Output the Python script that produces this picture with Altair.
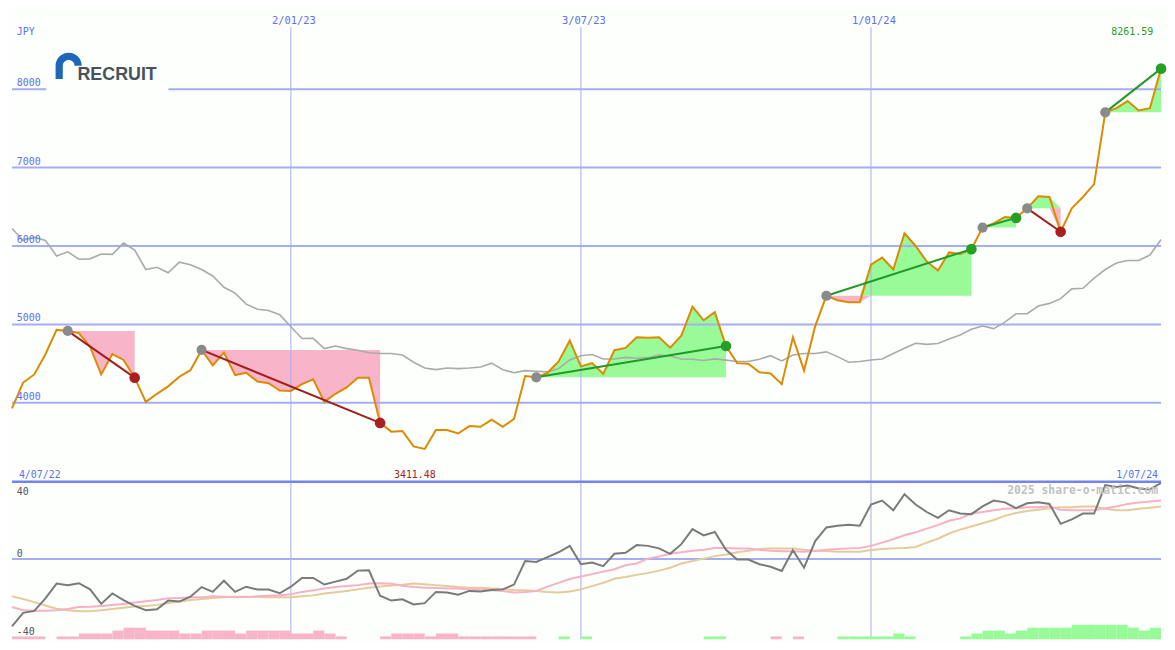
import altair as alt
import pandas as pd

# ---------------- data (weekly, 11/07/22 .. 1/07/24) ----------------
weeks = list(range(104))

price = [3930, 4259, 4362, 4620, 4930, 4917, 4889, 4716, 4362, 4621,
         4547, 4321, 4012, 4115, 4210, 4333, 4416, 4675, 4477, 4642,
         4354, 4383, 4272, 4251, 4156, 4152, 4238, 4300, 4012, 4115,
         4197, 4321, 4321, 3744, 3633, 3642, 3444, 3411.48, 3654, 3654,
         3609, 3703, 3695, 3785, 3695, 3794, 4342, 4325, 4383, 4527,
         4794, 4465, 4506, 4370, 4671, 4700, 4836, 4831, 4836, 4704,
         4856, 5226, 5053, 5156, 4725, 4506, 4498, 4391, 4374, 4238,
         4836, 4411, 4979, 5365, 5309, 5284, 5284, 5762, 5852, 5700,
         6162, 6000, 5802, 5688, 5918, 5897, 5960, 6235, 6288, 6370,
         6358, 6480, 6633, 6625, 6181, 6481, 6625, 6790, 7704, 7757,
         7848, 7728, 7757, 8261.59]

index_line = [6222, 6071, 6111, 6071, 5873, 5926, 5831, 5836, 5898, 5893,
              6037, 5947, 5700, 5729, 5659, 5794, 5762, 5700, 5618, 5473,
              5399, 5259, 5193, 5177, 5123, 4971, 4820, 4823, 4691, 4724,
              4691, 4671, 4638, 4630, 4630, 4609, 4518, 4444, 4424, 4444,
              4436, 4444, 4457, 4506, 4423, 4383, 4411, 4403, 4395, 4436,
              4547, 4601, 4617, 4560, 4560, 4580, 4568, 4576, 4609, 4597,
              4560, 4556, 4539, 4560, 4545, 4527, 4527, 4556, 4601, 4535,
              4609, 4630, 4630, 4650, 4589, 4518, 4527, 4547, 4560, 4630,
              4695, 4760, 4745, 4757, 4815, 4864, 4938, 4979, 4947, 5029,
              5136, 5136, 5235, 5268, 5329, 5453, 5461, 5589, 5700, 5782,
              5815, 5815, 5885, 6083]

osc_main = [-34.8, -27.8, -26.8, -20.3, -12.7, -13.5, -12.5, -15.7, -23.2, -17.8,
            -21.2, -24.2, -26.5, -26.0, -21.5, -22.0, -19.5, -14.5, -17.0, -11.2,
            -17.0, -14.3, -15.8, -15.8, -17.7, -14.3, -9.8, -9.8, -13.2, -11.7,
            -10.2, -6.0, -5.8, -19.0, -21.5, -20.8, -23.5, -22.8, -17.0, -17.3,
            -18.5, -16.5, -16.8, -16.0, -15.7, -13.2, -1.0, -1.5, 1.0, 3.5,
            6.8, -2.7, -1.8, -3.7, 2.7, 3.2, 7.2, 6.8, 5.5, 2.7,
            7.7, 15.5, 12.2, 14.0, 4.8, -0.3, -0.3, -2.7, -4.0, -6.2,
            4.5, -4.5, 9.3, 16.3, 17.2, 17.7, 17.2, 28.2, 30.2, 25.2,
            33.5, 28.2, 24.3, 21.3, 25.2, 23.5, 23.2, 27.2, 30.2, 29.3,
            26.3, 28.8, 29.3, 28.5, 18.2, 20.5, 23.5, 23.5, 38.2, 37.2,
            38.0, 36.5, 36.0, 39.3]

osc_pink = [-24.8, -26.5, -26.8, -26.7, -26.5, -25.8, -24.8, -24.7, -24.3, -23.8,
            -23.2, -22.5, -21.8, -21.2, -20.3, -20.2, -19.8, -19.7, -19.3, -19.5,
            -19.8, -19.7, -19.3, -19.0, -18.7, -18.2, -17.0, -16.2, -15.2, -14.5,
            -14.0, -13.5, -12.7, -12.5, -12.8, -13.8, -14.5, -14.8, -15.0, -15.2,
            -15.3, -15.7, -15.8, -16.2, -16.5, -17.3, -17.0, -16.5, -14.3, -12.3,
            -10.3, -9.0, -7.8, -6.5, -5.3, -3.2, -2.3, 0.2, 1.3, 2.7,
            3.5, 4.3, 4.8, 5.7, 5.7, 5.5, 5.5, 4.8, 4.3, 4.0,
            4.0, 3.8, 4.2, 4.8, 5.2, 5.5, 5.7, 6.8, 8.5, 10.2,
            12.3, 13.8, 15.7, 17.5, 19.8, 21.0, 23.5, 24.3, 25.2, 26.0,
            26.3, 26.8, 26.8, 27.2, 25.5, 25.2, 25.2, 25.2, 26.3, 27.2,
            28.5, 29.2, 29.7, 30.2]

osc_tan = [-19.3, -20.7, -22.3, -24.0, -25.7, -26.5, -27.0, -27.0, -26.5, -25.8,
           -25.2, -24.5, -24.3, -23.7, -22.8, -22.0, -21.2, -20.7, -20.2, -19.8,
           -19.5, -19.5, -19.7, -19.8, -19.8, -19.8, -19.2, -18.8, -17.8, -17.2,
           -16.5, -15.7, -14.8, -14.2, -13.7, -13.3, -12.7, -13.0, -13.5, -14.0,
           -14.5, -14.8, -14.8, -15.2, -15.5, -16.0, -16.2, -16.5, -17.0, -17.3,
           -16.8, -15.7, -14.0, -12.3, -10.2, -9.3, -8.2, -7.3, -6.0, -4.5,
           -2.3, -1.0, 0.2, 1.5, 2.3, 3.5, 4.3, 5.2, 5.5, 5.5,
           5.5, 4.8, 4.3, 4.2, 3.8, 3.8, 3.8, 4.7, 5.2, 5.5,
           5.7, 6.2, 8.5, 10.5, 13.2, 15.2, 16.8, 18.5, 20.2, 22.3,
           23.8, 24.8, 25.5, 26.3, 26.8, 26.8, 27.2, 27.2, 26.0, 25.2,
           25.2, 26.0, 26.5, 27.2]

signal_level = [-1, -1, -1, 0, -1, -1, -2, -2, -2, -3,
                -4, -4, -3, -3, -3, -2, -2, -3, -3, -3,
                -2, -3, -3, -3, -3, -2, -2, -3, -2, -1,
                0, 0, 0, -1, -2, -2, -2, -1, -2, -2,
                -1, -1, -1, -1, -1, -1, -1, 0, 0, 1,
                0, 1, 0, 0, 0, 0, 0, 0, 0, 0,
                0, 0, 1, 1, 0, 0, 0, 0, -1, 0,
                -1, 0, 0, 0, 1, 1, 1, 1, 1, 2,
                1, 0, 0, 0, 0, 1, 2, 3, 3, 2,
                3, 4, 4, 4, 4, 5, 5, 5, 5, 5,
                4, 3, 4, 0]

trend_start = [5, 17, 47, 73, 87, 91, 98]
trend_end = [11, 33, 64, 86, 90, 94, 103]

price_ticks = [4000, 5000, 6000, 7000, 8000]
osc_ticks = [40, 0, -40]
date_tick_pos = [25, 51, 77]
date_tick_labels = ["2/01/23", "3/07/23", "1/01/24"]
start_label = "4/07/22"
end_label = "1/07/24"
currency_label = "JPY"
logo_text = "RECRUIT"
watermark = "2025 share-o-matic.com"

# ---------------- layout / style ----------------
W = 1159
H_TOP = 475
H_BOT = 159
SX = W / 1175
SY = (H_TOP + H_BOT) / 650

BG = "#fcfffc"
GRID = "#a5adf3"
GRID_DARK = "#7484ef"
LABEL_BLUE = "#5f6ff0"
ORANGE = "#dc8b00"
GRAY = "#aaaaaa"
PINK = "#f8b4c9"
GREEN = "#98fb98"
DOWN = "#a31d1d"
UP = "#23992a"
MONO = "DejaVu Sans Mono"

x_scale = alt.Scale(domain=[0, 103], nice=False, zero=False)
yp_scale = alt.Scale(domain=[2995, 9000], nice=False, zero=False)
yo_scale = alt.Scale(domain=[-41.5, 40], nice=False, zero=False)

X = alt.X("w:Q", scale=x_scale, axis=None)


def Yp(f):
    return alt.Y(f, scale=yp_scale, axis=None)


def Yo(f):
    return alt.Y(f, scale=yo_scale, axis=None)


one = pd.DataFrame({"k": [0]})

# ---------------- derived tables ----------------
df_main = pd.DataFrame({"w": weeks, "price": price, "idx": index_line,
                        "osc": osc_main, "pink": osc_pink, "tan": osc_tan})

fill_rows, trend_rows = [], []
for s, (a, b) in enumerate(zip(trend_start, trend_end)):
    base = price[a]
    d = "up" if price[b] > price[a] else "down"
    for i in range(a, b + 1):
        fill_rows.append({"seg": s, "w": i, "base": base,
                          "up": max(price[i], base), "dn": min(price[i], base)})
    trend_rows.append({"seg": s, "w": a, "p": price[a], "dir": d, "role": "start"})
    trend_rows.append({"seg": s, "w": b, "p": price[b], "dir": d, "role": "end"})
df_fill = pd.DataFrame(fill_rows)
df_trend = pd.DataFrame(trend_rows)

osc_bottom = yo_scale.domain[0]
df_bars = pd.DataFrame({"w": weeks, "lvl": signal_level})
df_bars = df_bars[df_bars["lvl"] != 0].copy()
df_bars["w2"] = df_bars["w"] + 1
df_bars["b0"] = osc_bottom
df_bars["b1"] = osc_bottom + df_bars["lvl"].abs() * 1.5

i_max = price.index(max(price))
i_min = price.index(min(price))

# ---------------- top panel ----------------
green_fill = alt.Chart(df_fill).mark_area(color=GREEN, opacity=1).encode(
    x=X, y=Yp("up:Q"), y2="base:Q", detail="seg:N")
pink_fill = alt.Chart(df_fill).mark_area(color=PINK, opacity=1).encode(
    x=X, y=Yp("dn:Q"), y2="base:Q", detail="seg:N")

hgrid = alt.Chart(pd.DataFrame({"v": price_ticks})).mark_rule(
    color=GRID, strokeWidth=2).encode(y=Yp("v:Q"))
vgrid_top = alt.Chart(pd.DataFrame({"w": date_tick_pos, "top": [8790] * 3,
                                    "bot": [yp_scale.domain[0]] * 3})).mark_rule(
    color=GRID, strokeWidth=1).encode(x=X, y=Yp("top:Q"), y2="bot:Q")

logo_mask = alt.Chart(one).mark_rect(color=BG).encode(
    x=alt.value(35 * SX), x2=alt.value(160 * SX),
    y=alt.value(40 * SY), y2=alt.value(86 * SY))
arch_path = ("M -1 1 L -1 0 A 1 1 0 0 1 1 0 L 0.45 0 "
             "A 0.45 0.45 0 0 0 -0.45 0 L -0.45 1 Z")
logo_arch = alt.Chart(one).mark_point(
    shape=arch_path, filled=True, color="#1f66b8", opacity=1, size=700,
    strokeWidth=0).encode(x=alt.value(58 * SX), y=alt.value(57 * SY))
logo_word = alt.Chart(one).mark_text(
    text=logo_text, font="Liberation Sans", fontWeight="bold", fontSize=18,
    color="#46535d", align="left", baseline="alphabetic").encode(
    x=alt.value(67 * SX), y=alt.value(72 * SY))

gray_line = alt.Chart(df_main).mark_line(color=GRAY, strokeWidth=1.6).encode(
    x=X, y=Yp("idx:Q"))
price_line = alt.Chart(df_main).mark_line(color=ORANGE, strokeWidth=2).encode(
    x=X, y=Yp("price:Q"))

dir_color = alt.condition("datum.dir == 'up'", alt.value(UP), alt.value(DOWN))
trend_lines = alt.Chart(df_trend).mark_line(strokeWidth=2).encode(
    x=X, y=Yp("p:Q"), detail="seg:N", color=dir_color)
start_dots = alt.Chart(df_trend).transform_filter("datum.role == 'start'").mark_circle(
    size=105, color="#8a8a8a", opacity=1).encode(x=X, y=Yp("p:Q"))
end_dots = alt.Chart(df_trend).transform_filter("datum.role == 'end'").mark_circle(
    size=115, opacity=1).encode(
    x=X, y=Yp("p:Q"),
    color=alt.condition("datum.dir == 'up'", alt.value("#24a024"), alt.value("#a82020")))

price_tick_labels = alt.Chart(pd.DataFrame(
    {"v": price_ticks, "t": [str(v) for v in price_ticks]})).mark_text(
    font=MONO, fontSize=10, color=LABEL_BLUE, align="left",
    baseline="alphabetic", dy=-3).encode(
    x=alt.value(5 * SX), y=Yp("v:Q"), text="t:N")
jpy_label = alt.Chart(one).mark_text(
    text=currency_label, font=MONO, fontSize=10, color=LABEL_BLUE,
    align="left", baseline="alphabetic").encode(
    x=alt.value(5 * SX), y=alt.value(25 * SY))
date_labels = alt.Chart(pd.DataFrame(
    {"w": date_tick_pos, "t": date_tick_labels})).mark_text(
    font=MONO, fontSize=10.5, color=LABEL_BLUE, align="center",
    baseline="alphabetic", dx=3).encode(
    x=X, y=alt.value(14 * SY), text="t:N")
max_label = alt.Chart(pd.DataFrame(
    {"w": [i_max], "t": [f"{price[i_max]:.2f}"]})).mark_text(
    font=MONO, fontSize=10, color="#2b9a2b", align="right",
    baseline="alphabetic", dx=-8).encode(
    x=X, y=alt.value(25 * SY), text="t:N")
min_label = alt.Chart(pd.DataFrame(
    {"w": [i_min], "t": [f"{price[i_min]:.2f}"]})).mark_text(
    font=MONO, fontSize=10, color="#a52222", align="center",
    baseline="alphabetic", dx=-10).encode(
    x=X, y=alt.value(483 * SY), text="t:N")
start_lab = alt.Chart(pd.DataFrame({"w": [0], "t": [start_label]})).mark_text(
    font=MONO, fontSize=10, color=LABEL_BLUE, align="left",
    baseline="alphabetic", dx=7).encode(
    x=X, y=alt.value(483 * SY), text="t:N")
end_lab = alt.Chart(pd.DataFrame({"w": [103], "t": [end_label]})).mark_text(
    font=MONO, fontSize=10, color=LABEL_BLUE, align="right",
    baseline="alphabetic", dx=-3).encode(
    x=X, y=alt.value(483 * SY), text="t:N")

top = alt.layer(
    green_fill, pink_fill, hgrid, vgrid_top, logo_mask, logo_arch, logo_word,
    gray_line, price_line, trend_lines, start_dots, end_dots,
    price_tick_labels, jpy_label, date_labels, max_label, min_label,
    start_lab, end_lab
).properties(width=W, height=H_TOP)

# ---------------- bottom panel ----------------
zero_grid = alt.Chart(pd.DataFrame({"v": [0]})).mark_rule(
    color=GRID, strokeWidth=2).encode(y=Yo("v:Q"))
divider = alt.Chart(pd.DataFrame({"v": [osc_ticks[0]]})).mark_rule(
    color=GRID_DARK, strokeWidth=2.5).encode(y=Yo("v:Q"))
vgrid_bot = alt.Chart(pd.DataFrame({"w": date_tick_pos})).mark_rule(
    color=GRID, strokeWidth=1).encode(x=X)

bars = alt.Chart(df_bars).mark_rect(opacity=1).encode(
    x=X, x2="w2:Q", y=Yo("b0:Q"), y2="b1:Q",
    color=alt.condition("datum.lvl > 0", alt.value(GREEN), alt.value(PINK)))

tan_line = alt.Chart(df_main).mark_line(color="#e6cb9a", strokeWidth=2).encode(
    x=X, y=Yo("tan:Q"))
pink_line = alt.Chart(df_main).mark_line(color="#f7b0c6", strokeWidth=2).encode(
    x=X, y=Yo("pink:Q"))
osc_line = alt.Chart(df_main).mark_line(color="#7a7a7a", strokeWidth=2).encode(
    x=X, y=Yo("osc:Q"))

osc_label_df = pd.DataFrame({"v": osc_ticks, "t": [str(v) for v in osc_ticks],
                             "dy": [13, -2.5, -1.5]})
osc_labels = alt.layer(*[
    alt.Chart(osc_label_df.iloc[[k]]).mark_text(
        font=MONO, fontSize=10, color="#555555", align="left",
        baseline="alphabetic", dy=float(osc_label_df["dy"].iloc[k])).encode(
        x=alt.value(5 * SX), y=Yo("v:Q"), text="t:N")
    for k in range(len(osc_ticks))
])
wm = alt.Chart(pd.DataFrame({"w": [103], "t": [watermark]})).mark_text(
    font=MONO, fontSize=11.5, fontWeight="bold", color="#c2c2c2",
    align="right", baseline="alphabetic", dx=-3).encode(
    x=X, y=alt.value(13 * SY), text="t:N")

bottom = alt.layer(
    zero_grid, vgrid_bot, bars, tan_line, pink_line, osc_line, divider,
    osc_labels, wm
).properties(width=W, height=H_BOT)

chart = alt.vconcat(top, bottom, spacing=0, bounds="flush").properties(
    padding=0, background=BG
).configure_view(stroke=None)

chart.save("out.html", embed_options={"renderer": "svg", "actions": False})
